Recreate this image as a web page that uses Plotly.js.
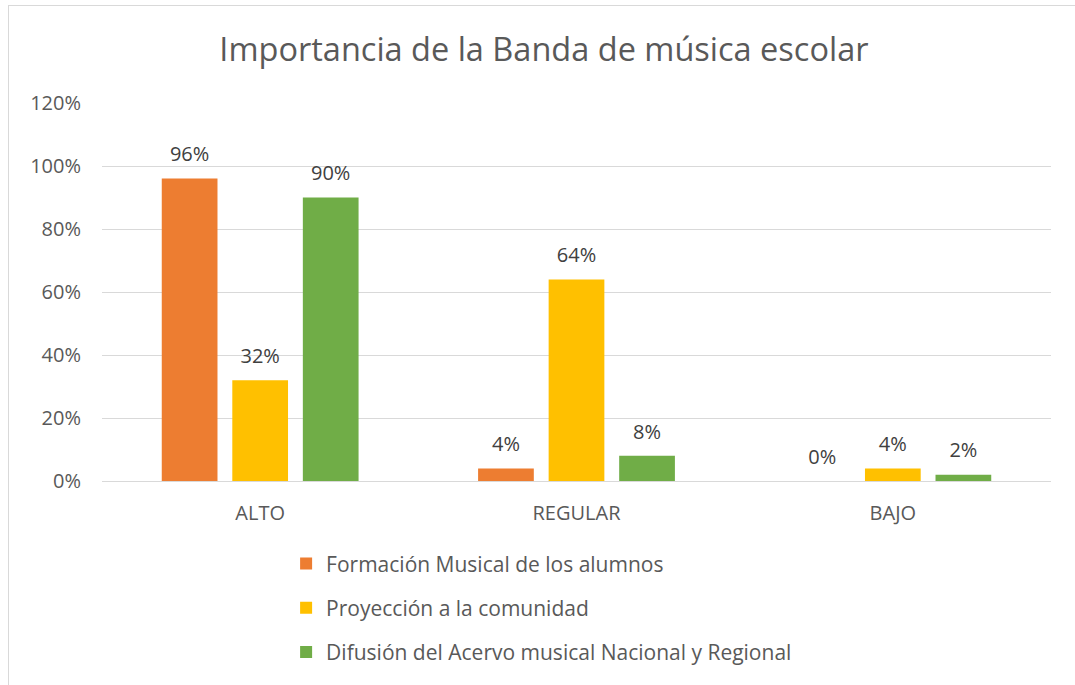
<!DOCTYPE html>
<html>
<head>
<meta charset="utf-8">
<script src="https://cdn.plot.ly/plotly-3.0.1.min.js"></script>
<style>
html, body { margin: 0; padding: 0; background: #ffffff; }
#chart { position: absolute; left: 0; top: 0; width: 1075px; height: 685px; }
#frame { position: absolute; left: 8px; top: 5px; width: 1080px; height: 700px; border: 1px solid #d9d9d9; pointer-events: none; }
</style>
</head>
<body>
<div id="chart"></div>
<div id="frame"></div>
<script>
const categories = ["ALTO", "REGULAR", "BAJO"];
const seriesNames = [
  "Formación Musical de los alumnos",
  "Proyección a la comunidad",
  "Difusión del Acervo musical Nacional y Regional"
];
const formacion = [0.96, 0.04, 0.00];
const proyeccion = [0.32, 0.64, 0.04];
const difusion = [0.90, 0.08, 0.02];
const colors = ["#ed7d31", "#ffc000", "#70ad47"];

const FONT = "'Open Sans', 'Noto Sans', sans-serif";
const values = [formacion, proyeccion, difusion];

const barTraces = values.map((v, i) => ({
  type: "bar",
  name: seriesNames[i],
  x: categories,
  y: v,
  offsetgroup: "s" + i,
  marker: { color: colors[i] },
  legendgroup: "g" + i,
  hoverinfo: "x+y+name"
}));

const labelTraces = values.map((v, i) => ({
  type: "scatter",
  mode: "markers+text",
  x: categories,
  y: v,
  offsetgroup: "s" + i,
  text: v.map(d => Math.round(d * 100) + "%"),
  textposition: "top center",
  textfont: { family: FONT, size: 20, color: "#404040" },
  marker: { size: 18, opacity: 0, color: "rgba(0,0,0,0)" },
  cliponaxis: false,
  showlegend: false,
  hoverinfo: "skip",
  legendgroup: "g" + i
}));

const layout = {
  width: 1075,
  height: 685,
  margin: { l: 102, r: 24, t: 103, b: 204 },
  paper_bgcolor: "#ffffff",
  plot_bgcolor: "#ffffff",
  font: { family: FONT, color: "#595959" },
  title: {
    text: "Importancia de la Banda de música escolar",
    font: { family: FONT, size: 32.5, color: "#595959" },
    xref: "container",
    x: 0.506, xanchor: "center",
    y: 0.927, yanchor: "middle"
  },
  barmode: "group",
  scattermode: "group",
  bargap: 0.331,
  bargroupgap: 0.21,
  scattergap: 0.331,
  xaxis: {
    showgrid: false,
    showline: true,
    linecolor: "#d9d9d9",
    linewidth: 1,
    ticks: "",
    tickfont: { family: FONT, size: 20, color: "#595959" },
    ticklabelstandoff: 14
  },
  yaxis: {
    range: [0, 1.2],
    dtick: 0.2,
    tick0: 0,
    tickformat: ".0%",
    showgrid: true,
    gridcolor: "#d9d9d9",
    gridwidth: 1,
    zeroline: false,
    showline: false,
    ticks: "",
    tickfont: { family: FONT, size: 20, color: "#595959" },
    ticklabelstandoff: 20
  },
  showlegend: true,
  legend: {
    orientation: "v",
    x: 0.194, xanchor: "left",
    y: -0.165, yanchor: "top",
    font: { family: FONT, size: 21, color: "#595959" },
    tracegroupgap: 14,
    itemwidth: 30,
    bgcolor: "rgba(0,0,0,0)"
  }
};

Plotly.newPlot("chart", barTraces.concat(labelTraces), layout, { displayModeBar: false, staticPlot: true });
</script>
</body>
</html>
